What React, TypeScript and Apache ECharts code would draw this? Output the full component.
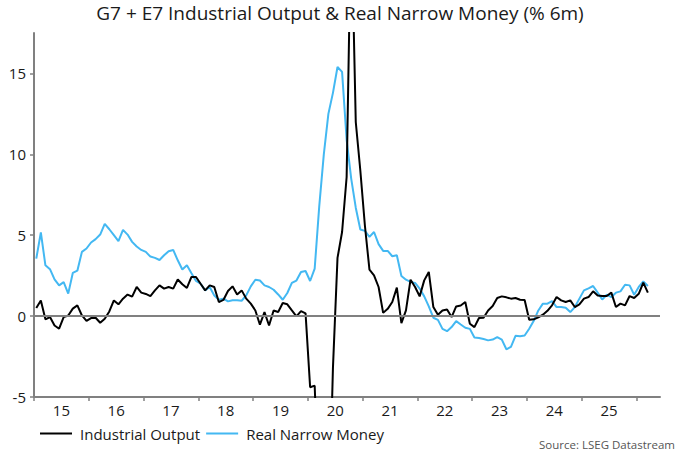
import React, { useEffect, useRef } from "react";
import * as echarts from "echarts";

// Monthly observations starting January 2015
const startYear = 2015;

const industrialOutput: number[] = [
  0.5, 0.97, -0.2, -0.06, -0.58, -0.78, -0.06, 0.04, 0.46, 0.66, 0.04, -0.3,
  -0.12, -0.1, -0.41, -0.16, 0.29, 0.97, 0.73, 1.08, 1.33, 1.2, 1.8, 1.45,
  1.37, 1.24, 1.59, 1.9, 1.7, 1.8, 1.7, 2.26, 1.97, 1.74, 2.42, 2.42,
  2.0, 1.59, 1.9, 1.8, 0.87, 1.0, 1.55, 1.84, 1.34, 1.59, 1.08, 0.77,
  0.35, -0.53, 0.25, -0.58, 0.35, 0.25, 0.81, 0.73, 0.35, -0.02, 0.31, 0.17,
  -4.4, -4.3, -12, -20, -14, -3.2, 3.6, 5.2, 8.6, 25, 12, 9,
  5.6, 2.87, 2.52, 1.8, 0.2, 0.45, 0.87, 1.76, -0.43, 0.35, 2.25, 1.8,
  1.22, 2.21, 2.73, 0.56, 0.08, 0.35, 0.41, -0.06, 0.6, 0.66, 0.87, -0.47,
  -0.68, -0.12, -0.1, 0.35, 0.62, 1.12, 1.22, 1.16, 1.08, 1.12, 1.01, 1.0,
  -0.22, -0.2, -0.08, 0.09, 0.33, 0.67, 1.18, 0.97, 0.87, 0.97, 0.56, 0.72,
  1.08, 1.18, 1.53, 1.28, 1.24, 1.24, 1.45, 0.56, 0.77, 0.66, 1.24, 1.12,
  1.38, 2.07, 1.45,
];

const realNarrowMoney: number[] = [
  3.55, 5.17, 3.14, 2.9, 2.27, 1.9, 2.1, 1.39, 2.67, 2.81, 3.97, 4.18,
  4.55, 4.76, 5.04, 5.7, 5.37, 5.0, 4.63, 5.33, 5.04, 4.59, 4.3, 4.09,
  3.97, 3.68, 3.6, 3.47, 3.76, 4.01, 4.09, 3.45, 2.88, 3.14, 2.65, 2.17,
  2.0, 1.59, 1.8, 1.28, 1.01, 1.08, 0.91, 0.98, 0.98, 0.95, 1.28, 1.84,
  2.25, 2.2, 1.9, 1.8, 1.63, 1.34, 1.01, 1.43, 2.05, 2.2, 2.73, 2.79,
  2.17, 2.94, 6.8, 10.0, 12.5, 13.8, 15.4, 15.1, 10.9, 8.5, 6.7, 5.35,
  5.27, 4.9, 5.2, 4.45, 4.03, 4.03, 3.7, 3.76, 2.48, 2.25, 2.11, 2.05,
  1.7, 1.22, 0.6, -0.1, -0.23, -0.79, -0.93, -0.68, -0.31, -0.52, -0.72, -0.79,
  -1.32, -1.35, -1.42, -1.5, -1.45, -1.3, -1.45, -2.05, -1.9, -1.22, -1.24, -1.2,
  -0.78, -0.29, 0.35, 0.77, 0.77, 0.93, 0.56, 0.56, 0.52, 0.25, 0.56, 1.08,
  1.59, 1.72, 1.86, 1.45, 1.03, 1.32, 1.18, 1.45, 1.53, 1.94, 1.9, 1.32,
  1.8, 2.15, 1.86,
];

const yTicks = [-5, 0, 5, 10, 15];
const yearTicks = [2015, 2016, 2017, 2018, 2019, 2020, 2021, 2022, 2023, 2024, 2025, 2026];
const yearLabelPositions = [2015.5, 2016.5, 2017.5, 2018.5, 2019.5, 2020.5, 2021.5, 2022.5, 2023.5, 2024.5, 2025.5];

const seriesNames = ["Industrial Output", "Real Narrow Money"];
const titleText = "G7 + E7 Industrial Output & Real Narrow Money (% 6m)";
const sourceText = "Source: LSEG Datastream";

const toPairs = (vals: number[]) =>
  vals.map((v, i) => [startYear + (i + 0.5) / 12, v]);

const FONT = "'Open Sans', 'Noto Sans', sans-serif";
const AXIS_GRAY = "#808080";
const BLUE = "#43b8f2";
const TEXT = "#1a1a1a";

export default function App() {
  const ref = useRef<HTMLDivElement>(null);

  useEffect(() => {
    document.body.style.margin = "0";
    if (!ref.current) return;
    const chart = echarts.init(ref.current, undefined, { renderer: "svg" });
    chart.setOption({
      animation: false,
      backgroundColor: "#ffffff",
      textStyle: { fontFamily: FONT },
      title: {
        text: titleText,
        left: "center",
        top: -2,
        textStyle: { fontFamily: FONT, fontSize: 19, fontWeight: "normal", color: TEXT },
      },
      legend: {
        left: 35,
        top: 421,
        icon: "rect",
        itemWidth: 32,
        itemHeight: 2,
        itemGap: 6,
        textStyle: { fontFamily: FONT, fontSize: 15, color: TEXT, padding: [0, 0, 0, 3] },
        data: seriesNames,
      },
      graphic: [
        {
          type: "text",
          right: 5,
          top: 438,
          style: { text: sourceText, fontFamily: FONT, fontSize: 11.5, fill: "#555555" },
        },
      ],
      grid: { left: 34, right: 20, top: 33, bottom: 58, containLabel: false },
      xAxis: {
        type: "value",
        min: 2015,
        max: 2026.43,
        axisLine: { show: true, onZero: false, lineStyle: { color: AXIS_GRAY, width: 2 } },
        axisTick: {
          show: true,
          customValues: yearTicks,
          length: 4,
          inside: false,
          lineStyle: { color: AXIS_GRAY, width: 1.5 },
        },
        axisLabel: {
          customValues: yearLabelPositions,
          formatter: (v: number) => String(Math.floor(v) % 100),
          fontFamily: FONT,
          fontSize: 15,
          color: TEXT,
          margin: 5,
        },
        splitLine: { show: false },
      },
      yAxis: {
        type: "value",
        min: -5,
        max: 17.5,
        axisLine: { show: true, lineStyle: { color: AXIS_GRAY, width: 2 } },
        axisTick: {
          show: true,
          customValues: yTicks,
          length: 4,
          inside: false,
          lineStyle: { color: AXIS_GRAY, width: 1.5 },
        },
        axisLabel: {
          customValues: yTicks,
          fontFamily: FONT,
          fontSize: 15,
          color: TEXT,
          margin: 8,
        },
        splitLine: { show: false },
      },
      series: [
        {
          name: seriesNames[0],
          type: "line",
          data: toPairs(industrialOutput),
          symbol: "none",
          clip: true,
          z: 3,
          lineStyle: { color: "#000000", width: 2 },
          itemStyle: { color: "#000000" },
          markLine: {
            silent: true,
            symbol: "none",
            label: { show: false },
            lineStyle: { color: AXIS_GRAY, width: 2, type: "solid" },
            data: [{ yAxis: 0 }],
          },
        },
        {
          name: seriesNames[1],
          type: "line",
          data: toPairs(realNarrowMoney),
          symbol: "none",
          clip: true,
          z: 2,
          lineStyle: { color: BLUE, width: 2 },
          itemStyle: { color: BLUE },
        },
      ],
    });
    return () => chart.dispose();
  }, []);

  return <div ref={ref} style={{ width: 680, height: 455 }} />;
}
